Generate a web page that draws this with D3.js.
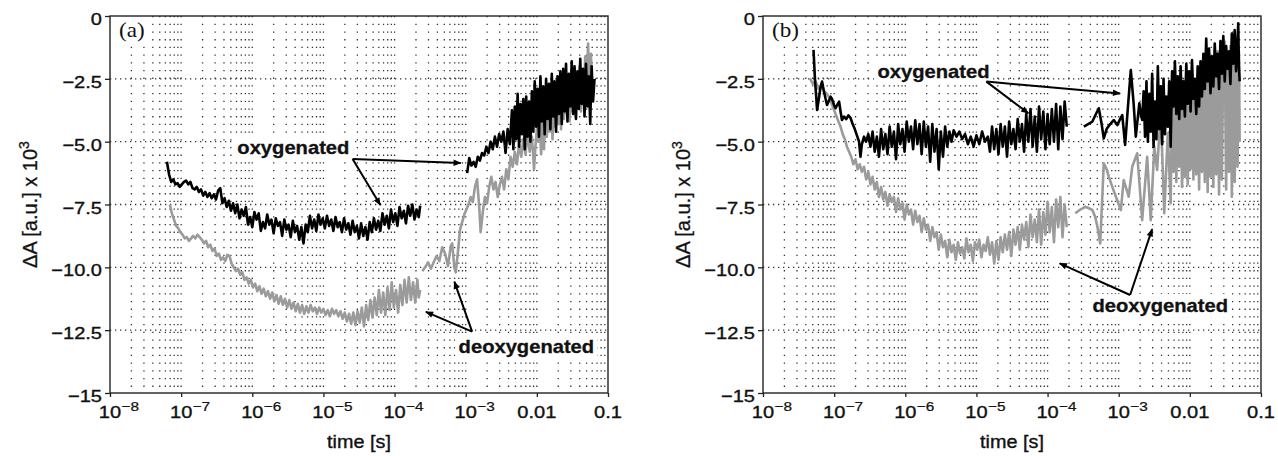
<!DOCTYPE html>
<html>
<head>
<meta charset="utf-8">
<script src="https://cdn.jsdelivr.net/npm/d3@7"></script>
<style>
body { margin: 0; background: #fff; }
svg { display: block; font-family: "Liberation Sans", Arial, Helvetica, sans-serif; }
</style>
</head>
<body>
<svg id="chart" width="1278" height="456"></svg>
<script>
// every trace point is [log10(time / s), dA x 10^3]
var oxyA1 = [[-7.20,-5.80],[-7.17,-6.30],[-7.14,-6.60],[-7.11,-6.50],[-7.08,-6.70],[-7.05,-6.65],[-7.02,-6.80],[-6.99,-6.70],[-6.96,-6.60],[-6.93,-6.55],[-6.90,-6.70],[-6.87,-6.60],[-6.84,-6.85],[-6.81,-6.90],[-6.78,-6.80],[-6.75,-7.00],[-6.72,-6.90],[-6.69,-7.15],[-6.66,-7.00],[-6.63,-7.20],[-6.60,-7.05],[-6.57,-7.25],[-6.54,-7.10],[-6.51,-7.30],[-6.48,-6.95],[-6.45,-6.85],[-6.42,-7.45],[-6.39,-7.25],[-6.36,-7.60],[-6.33,-7.35],[-6.30,-7.75],[-6.27,-7.45],[-6.24,-7.85],[-6.21,-7.50],[-6.18,-8.05],[-6.15,-7.70],[-6.12,-7.95],[-6.09,-7.60],[-6.06,-8.30],[-6.03,-8.00],[-6.00,-8.40],[-5.97,-7.80],[-5.94,-8.10],[-5.91,-7.85],[-5.88,-8.55],[-5.85,-8.20],[-5.82,-8.45],[-5.79,-7.90],[-5.76,-8.30],[-5.73,-8.10],[-5.70,-8.65],[-5.67,-8.05],[-5.64,-8.35],[-5.61,-8.20],[-5.58,-8.75],[-5.55,-8.10],[-5.52,-8.50],[-5.49,-8.30],[-5.46,-8.80],[-5.43,-8.15],[-5.40,-8.60],[-5.37,-8.35],[-5.34,-8.90],[-5.31,-8.40],[-5.28,-9.05],[-5.25,-8.30],[-5.22,-8.60],[-5.19,-7.95],[-5.16,-8.45],[-5.13,-8.10],[-5.10,-8.55],[-5.07,-7.90],[-5.04,-8.30],[-5.01,-8.05],[-4.98,-8.45],[-4.95,-7.95],[-4.92,-8.35],[-4.89,-8.10],[-4.86,-8.55],[-4.83,-8.00],[-4.80,-8.40],[-4.77,-8.20],[-4.74,-8.60],[-4.71,-8.05],[-4.68,-8.50],[-4.65,-8.25],[-4.62,-8.70],[-4.59,-8.15],[-4.56,-8.60],[-4.53,-8.35],[-4.50,-8.85],[-4.47,-8.25],[-4.44,-8.75],[-4.41,-8.40],[-4.38,-8.90],[-4.35,-8.20],[-4.32,-8.60],[-4.29,-8.05],[-4.26,-8.50],[-4.23,-8.15],[-4.20,-8.55],[-4.17,-7.85],[-4.14,-8.30],[-4.11,-7.95],[-4.08,-8.45],[-4.05,-7.70],[-4.02,-8.20],[-3.99,-7.85],[-3.96,-8.35],[-3.93,-7.60],[-3.90,-8.05],[-3.87,-7.75],[-3.84,-8.25],[-3.81,-7.55],[-3.78,-7.95],[-3.75,-7.50],[-3.72,-8.10],[-3.69,-7.70],[-3.66,-8.00],[-3.64,-7.55]];
var oxyA2 = [[-2.98,-6.25],[-2.95,-5.65],[-2.92,-5.95],[-2.89,-5.80],[-2.86,-6.00],[-2.83,-5.60],[-2.80,-5.75],[-2.77,-5.45],[-2.74,-5.55],[-2.71,-5.20],[-2.68,-5.45],[-2.65,-5.00],[-2.62,-5.30],[-2.59,-4.80],[-2.56,-5.20],[-2.53,-4.70],[-2.50,-5.00],[-2.47,-4.60],[-2.44,-5.45],[-2.41,-4.50],[-2.38,-5.10],[-2.35,-3.75],[-2.33,-5.30],[-2.31,-3.60],[-2.29,-4.90],[-2.27,-3.10],[-2.25,-5.20],[-2.23,-3.50],[-2.21,-4.70],[-2.19,-3.30],[-2.17,-5.30],[-2.15,-3.20],[-2.13,-4.80],[-2.11,-3.40],[-2.09,-5.00],[-2.07,-3.00],[-2.05,-4.60],[-2.03,-2.60],[-2.01,-4.40],[-1.99,-2.90],[-1.97,-4.80],[-1.95,-2.40],[-1.93,-4.20],[-1.91,-2.80],[-1.89,-4.70],[-1.87,-2.50],[-1.85,-4.10],[-1.83,-2.70],[-1.81,-4.50],[-1.79,-2.30],[-1.77,-4.00],[-1.75,-2.60],[-1.73,-4.60],[-1.71,-2.40],[-1.69,-3.90],[-1.67,-2.20],[-1.65,-4.30],[-1.63,-2.10],[-1.61,-3.80],[-1.59,-1.90],[-1.57,-4.20],[-1.55,-2.30],[-1.53,-3.60],[-1.51,-1.80],[-1.49,-3.90],[-1.47,-2.00],[-1.45,-4.10],[-1.43,-2.20],[-1.41,-3.70],[-1.39,-1.70],[-1.37,-3.50],[-1.35,-2.10],[-1.33,-4.00],[-1.31,-1.90],[-1.29,-3.60],[-1.27,-2.40],[-1.25,-4.30],[-1.23,-2.00],[-1.21,-3.40],[-1.19,-2.50]];
var deoA1 = [[-7.16,-7.50],[-7.13,-7.85],[-7.10,-8.10],[-7.07,-8.35],[-7.04,-8.45],[-7.01,-8.60],[-6.98,-8.70],[-6.95,-8.85],[-6.92,-8.80],[-6.89,-8.95],[-6.86,-8.85],[-6.83,-8.75],[-6.80,-8.85],[-6.77,-8.70],[-6.74,-8.80],[-6.71,-8.90],[-6.68,-9.05],[-6.65,-8.95],[-6.62,-9.20],[-6.59,-9.10],[-6.56,-9.35],[-6.53,-9.25],[-6.50,-9.55],[-6.47,-9.45],[-6.44,-9.70],[-6.41,-9.60],[-6.38,-9.75],[-6.35,-9.50],[-6.32,-9.55],[-6.29,-9.85],[-6.26,-10.00],[-6.23,-10.15],[-6.20,-10.05],[-6.17,-10.30],[-6.14,-10.20],[-6.11,-10.50],[-6.08,-10.40],[-6.05,-10.65],[-6.02,-10.50],[-5.99,-10.80],[-5.96,-10.65],[-5.93,-10.95],[-5.90,-10.75],[-5.87,-11.05],[-5.84,-10.85],[-5.81,-11.15],[-5.78,-10.95],[-5.75,-11.25],[-5.72,-11.00],[-5.69,-11.35],[-5.66,-11.10],[-5.63,-11.45],[-5.60,-11.15],[-5.57,-11.50],[-5.54,-11.25],[-5.51,-11.60],[-5.48,-11.30],[-5.45,-11.65],[-5.42,-11.40],[-5.39,-11.75],[-5.36,-11.45],[-5.33,-11.80],[-5.30,-11.50],[-5.27,-11.85],[-5.24,-11.55],[-5.21,-11.80],[-5.18,-11.50],[-5.15,-11.75],[-5.12,-11.60],[-5.09,-11.85],[-5.06,-11.60],[-5.03,-11.80],[-5.00,-11.65],[-4.97,-11.90],[-4.94,-11.70],[-4.91,-11.95],[-4.88,-11.65],[-4.85,-11.85],[-4.82,-11.70],[-4.79,-11.95],[-4.76,-11.75],[-4.73,-12.05],[-4.70,-11.80],[-4.67,-12.15],[-4.64,-11.85],[-4.61,-12.25],[-4.58,-11.80],[-4.55,-12.30],[-4.52,-11.75],[-4.49,-12.20],[-4.46,-11.60],[-4.43,-12.35],[-4.40,-11.50],[-4.37,-12.10],[-4.34,-11.30],[-4.31,-12.00],[-4.28,-11.20],[-4.25,-11.90],[-4.22,-10.90],[-4.19,-11.80],[-4.16,-11.00],[-4.13,-11.90],[-4.10,-10.80],[-4.07,-11.70],[-4.04,-10.60],[-4.01,-11.60],[-3.98,-10.90],[-3.95,-11.80],[-3.92,-10.70],[-3.89,-11.50],[-3.86,-10.50],[-3.83,-11.40],[-3.80,-10.40],[-3.77,-11.30],[-3.74,-10.60],[-3.71,-11.40],[-3.68,-10.50],[-3.66,-11.20],[-3.64,-10.90]];
var deoA2 = [[-3.61,-10.15],[-3.57,-10.00],[-3.53,-9.80],[-3.49,-10.05],[-3.45,-9.80],[-3.41,-9.55],[-3.37,-9.75],[-3.33,-9.20],[-3.29,-9.45],[-3.25,-9.95],[-3.21,-9.15],[-3.19,-9.05],[-3.16,-10.00],[-3.14,-10.20],[-3.11,-9.40],[-3.08,-8.50],[-3.05,-8.20],[-3.02,-7.90],[-2.99,-7.70],[-2.96,-7.50],[-2.93,-7.20],[-2.90,-7.40],[-2.87,-6.80],[-2.84,-6.50],[-2.81,-7.60],[-2.79,-8.60],[-2.76,-7.80],[-2.73,-7.20],[-2.70,-7.45],[-2.67,-6.80],[-2.64,-6.40],[-2.61,-6.90],[-2.58,-6.60],[-2.55,-7.20],[-2.52,-6.70],[-2.49,-6.40],[-2.46,-6.90],[-2.43,-6.10],[-2.40,-6.50],[-2.37,-5.60],[-2.34,-6.00],[-2.31,-5.40],[-2.28,-5.90],[-2.25,-5.10],[-2.22,-5.60],[-2.19,-4.90],[-2.16,-5.50],[-2.13,-4.70],[-2.10,-5.40],[-2.07,-4.80],[-2.05,-5.60],[-2.04,-6.10],[-2.02,-5.20],[-2.00,-4.50],[-1.98,-5.00],[-1.96,-4.20],[-1.94,-5.50],[-1.92,-4.00],[-1.90,-5.30],[-1.88,-3.80],[-1.86,-4.80],[-1.84,-3.60],[-1.82,-4.60],[-1.80,-3.20],[-1.78,-4.90],[-1.76,-3.40],[-1.74,-4.40],[-1.72,-3.00],[-1.70,-4.30],[-1.68,-3.20],[-1.66,-4.50],[-1.64,-2.60],[-1.62,-4.10],[-1.60,-2.80],[-1.58,-3.90],[-1.56,-2.40],[-1.54,-4.20],[-1.52,-2.70],[-1.50,-3.80],[-1.48,-2.20],[-1.46,-4.00],[-1.44,-2.50],[-1.42,-3.60],[-1.40,-2.00],[-1.38,-3.80],[-1.36,-2.30],[-1.34,-3.40],[-1.32,-1.60],[-1.30,-3.00],[-1.28,-1.10],[-1.26,-3.50],[-1.24,-1.50],[-1.22,-3.20]];

var oxyB1 = [[-7.29,-1.35],[-7.27,-2.50],[-7.25,-3.30],[-7.24,-3.74],[-7.21,-3.20],[-7.19,-2.80],[-7.17,-2.61],[-7.15,-2.90],[-7.12,-3.30],[-7.10,-3.54],[-7.07,-3.35],[-7.05,-3.21],[-7.03,-3.30],[-7.00,-3.55],[-6.98,-3.67],[-6.95,-3.50],[-6.93,-3.41],[-6.91,-3.80],[-6.89,-4.14],[-6.86,-4.00],[-6.83,-4.10],[-6.80,-3.95],[-6.77,-4.05],[-6.74,-4.30],[-6.71,-4.50],[-6.68,-4.75],[-6.65,-5.00],[-6.63,-5.60],[-6.61,-5.10],[-6.58,-4.80],[-6.55,-5.00],[-6.52,-4.70],[-6.49,-5.20],[-6.46,-4.60],[-6.43,-5.40],[-6.40,-4.80],[-6.37,-5.60],[-6.34,-4.50],[-6.31,-5.30],[-6.28,-4.70],[-6.25,-5.50],[-6.22,-4.40],[-6.19,-5.20],[-6.16,-4.60],[-6.13,-5.70],[-6.10,-4.30],[-6.07,-5.10],[-6.04,-4.50],[-6.01,-5.40],[-5.98,-4.20],[-5.95,-5.00],[-5.92,-4.40],[-5.89,-5.30],[-5.86,-4.15],[-5.83,-5.10],[-5.80,-4.30],[-5.77,-5.50],[-5.74,-4.20],[-5.71,-5.20],[-5.68,-4.40],[-5.65,-5.80],[-5.62,-4.30],[-5.59,-5.40],[-5.56,-4.50],[-5.53,-6.10],[-5.50,-4.60],[-5.47,-5.60],[-5.44,-4.40],[-5.41,-5.20],[-5.38,-4.60],[-5.35,-5.00],[-5.32,-4.55],[-5.28,-4.80],[-5.24,-4.60],[-5.20,-4.90],[-5.16,-4.70],[-5.12,-5.10],[-5.08,-4.80],[-5.04,-5.20],[-5.00,-4.75],[-4.96,-5.10],[-4.92,-4.60],[-4.88,-5.00],[-4.84,-4.80],[-4.81,-5.40],[-4.78,-4.40],[-4.75,-5.30],[-4.72,-4.50],[-4.69,-5.50],[-4.66,-4.30],[-4.63,-5.20],[-4.60,-4.40],[-4.57,-5.60],[-4.54,-4.20],[-4.51,-5.10],[-4.48,-4.50],[-4.45,-5.30],[-4.42,-4.10],[-4.39,-5.00],[-4.36,-4.30],[-4.33,-5.40],[-4.30,-3.90],[-4.27,-5.00],[-4.24,-3.70],[-4.21,-5.20],[-4.18,-4.00],[-4.15,-5.40],[-4.12,-3.60],[-4.09,-4.90],[-4.06,-3.80],[-4.03,-5.30],[-4.00,-3.90],[-3.97,-5.10],[-3.94,-3.70],[-3.91,-5.00],[-3.88,-3.50],[-3.85,-5.30],[-3.82,-3.60],[-3.79,-4.90],[-3.76,-3.40],[-3.73,-4.40]];
var oxyB2 = [[-3.49,-4.40],[-3.43,-4.30],[-3.37,-4.20],[-3.32,-3.90],[-3.28,-3.67],[-3.24,-4.30],[-3.21,-4.87],[-3.17,-4.50],[-3.12,-4.30],[-3.07,-4.14],[-3.02,-4.34],[-2.98,-4.10],[-2.95,-3.94],[-2.91,-5.13],[-2.87,-3.60],[-2.83,-2.15],[-2.79,-3.50],[-2.76,-4.80],[-2.73,-4.00],[-2.71,-3.47],[-2.69,-3.90],[-2.67,-4.14],[-2.65,-3.00],[-2.63,-4.80],[-2.61,-2.60],[-2.59,-5.00],[-2.57,-3.10],[-2.55,-4.60],[-2.53,-2.30],[-2.51,-5.20],[-2.49,-3.40],[-2.47,-4.90],[-2.45,-2.00],[-2.43,-4.50],[-2.41,-2.80],[-2.39,-5.10],[-2.37,-2.50],[-2.35,-4.70],[-2.33,-3.20],[-2.31,-4.40],[-2.29,-2.60],[-2.27,-5.20],[-2.25,-2.20],[-2.23,-3.60],[-2.21,-1.80],[-2.19,-3.90],[-2.17,-2.40],[-2.15,-4.10],[-2.13,-2.00],[-2.11,-3.70],[-2.09,-2.60],[-2.07,-4.00],[-2.05,-1.90],[-2.03,-3.50],[-2.01,-2.20],[-1.99,-3.80],[-1.97,-1.75],[-1.95,-3.30],[-1.93,-2.50],[-1.91,-3.90],[-1.89,-2.00],[-1.87,-3.60],[-1.85,-1.80],[-1.83,-3.20],[-1.81,-1.50],[-1.79,-2.90],[-1.77,-0.90],[-1.75,-2.60],[-1.73,-1.30],[-1.71,-3.07],[-1.69,-1.60],[-1.67,-2.80],[-1.65,-1.10],[-1.63,-2.40],[-1.61,-1.50],[-1.59,-2.90],[-1.57,-1.00],[-1.55,-2.30],[-1.53,-0.80],[-1.51,-2.60],[-1.49,-1.20],[-1.47,-2.10],[-1.45,-1.40],[-1.43,-2.70],[-1.41,-0.70],[-1.39,-1.90],[-1.37,-0.56],[-1.35,-2.20],[-1.33,-1.00],[-1.32,-0.29],[-1.31,-2.00],[-1.30,-2.60]];
var deoB1 = [[-7.34,-2.48],[-7.30,-2.70],[-7.26,-2.60],[-7.22,-2.90],[-7.18,-2.80],[-7.14,-3.00],[-7.10,-3.10],[-7.06,-3.30],[-7.02,-3.60],[-6.98,-3.90],[-6.94,-4.20],[-6.91,-4.40],[-6.88,-4.70],[-6.85,-4.90],[-6.82,-5.20],[-6.79,-5.40],[-6.76,-5.60],[-6.73,-5.90],[-6.70,-5.70],[-6.67,-6.10],[-6.64,-5.90],[-6.61,-6.20],[-6.58,-6.00],[-6.55,-6.50],[-6.52,-6.20],[-6.49,-6.70],[-6.46,-6.40],[-6.43,-6.90],[-6.40,-6.60],[-6.37,-7.20],[-6.34,-6.80],[-6.31,-7.30],[-6.28,-7.00],[-6.25,-7.55],[-6.22,-7.10],[-6.19,-7.40],[-6.16,-7.20],[-6.13,-7.80],[-6.10,-7.25],[-6.07,-7.70],[-6.04,-7.45],[-6.01,-8.10],[-5.98,-7.50],[-5.95,-7.90],[-5.92,-7.70],[-5.89,-8.30],[-5.86,-7.75],[-5.83,-8.20],[-5.80,-7.95],[-5.77,-8.60],[-5.74,-8.05],[-5.71,-8.50],[-5.68,-8.30],[-5.65,-8.95],[-5.62,-8.40],[-5.59,-8.80],[-5.56,-8.60],[-5.53,-9.30],[-5.50,-8.70],[-5.47,-9.20],[-5.44,-8.95],[-5.41,-9.60],[-5.38,-8.90],[-5.35,-9.40],[-5.32,-9.10],[-5.29,-9.70],[-5.26,-9.00],[-5.23,-9.45],[-5.20,-9.20],[-5.17,-9.65],[-5.14,-8.85],[-5.11,-9.40],[-5.08,-9.10],[-5.05,-9.75],[-5.02,-9.00],[-4.99,-9.30],[-4.96,-8.90],[-4.93,-9.60],[-4.90,-9.10],[-4.87,-9.35],[-4.84,-8.80],[-4.81,-9.50],[-4.78,-9.00],[-4.75,-9.85],[-4.72,-8.95],[-4.69,-9.70],[-4.66,-8.80],[-4.63,-9.40],[-4.60,-8.70],[-4.57,-9.30],[-4.54,-8.60],[-4.51,-9.55],[-4.48,-8.50],[-4.45,-9.10],[-4.42,-8.40],[-4.39,-9.30],[-4.36,-8.30],[-4.33,-8.90],[-4.30,-8.20],[-4.27,-9.20],[-4.24,-7.90],[-4.21,-8.80],[-4.18,-8.10],[-4.15,-9.00],[-4.12,-7.70],[-4.09,-9.10],[-4.06,-7.80],[-4.03,-8.70],[-4.00,-7.40],[-3.97,-8.60],[-3.94,-7.60],[-3.91,-9.00],[-3.88,-7.30],[-3.85,-8.40],[-3.82,-7.20],[-3.79,-8.80],[-3.76,-7.50],[-3.73,-8.40]];
var deoB2 = [[-3.61,-7.85],[-3.54,-7.70],[-3.47,-7.59],[-3.42,-7.65],[-3.37,-7.72],[-3.33,-8.00],[-3.30,-8.38],[-3.26,-9.05],[-3.21,-5.86],[-3.17,-6.10],[-3.14,-6.39],[-3.09,-6.80],[-3.04,-7.19],[-2.97,-7.72],[-2.93,-6.53],[-2.89,-6.90],[-2.86,-7.19],[-2.81,-6.00],[-2.74,-5.46],[-2.67,-8.12],[-2.60,-5.60],[-2.55,-8.12],[-2.50,-5.20],[-2.46,-6.13],[-2.41,-3.74],[-2.36,-7.85],[-2.31,-4.67],[-2.27,-7.45],[-2.25,-3.20],[-2.23,-6.20],[-2.21,-3.50],[-2.19,-6.60],[-2.17,-3.10],[-2.15,-6.00],[-2.13,-3.70],[-2.11,-6.80],[-2.09,-3.30],[-2.07,-6.40],[-2.05,-3.00],[-2.03,-6.70],[-2.01,-3.60],[-1.99,-6.10],[-1.97,-2.90],[-1.95,-6.50],[-1.93,-3.40],[-1.91,-6.30],[-1.89,-2.80],[-1.87,-6.90],[-1.85,-3.10],[-1.83,-6.20],[-1.81,-2.40],[-1.79,-6.60],[-1.77,-1.80],[-1.75,-7.00],[-1.73,-2.20],[-1.71,-6.40],[-1.69,-1.60],[-1.67,-6.80],[-1.65,-2.00],[-1.63,-6.30],[-1.61,-1.40],[-1.59,-7.10],[-1.57,-1.90],[-1.55,-6.50],[-1.53,-1.30],[-1.51,-1.02],[-1.49,-6.90],[-1.47,-1.60],[-1.45,-6.20],[-1.43,-1.20],[-1.41,-7.19],[-1.39,-1.50],[-1.37,-6.60],[-1.35,-1.10],[-1.33,-6.00],[-1.31,-1.40],[-1.30,-5.00]];

var yTicks = [0, -2.5, -5, -7.5, -10, -12.5, -15];
var yTickLabels = ['0', '\u22122.5', '\u22125.0', '\u22127.5', '\u221210.0', '\u221212.5', '\u221215'];
var xTicks = [1e-8, 1e-7, 1e-6, 1e-5, 1e-4, 1e-3, 0.01, 0.1];
var xTickBase = ['10', '10', '10', '10', '10', '10', '0.01', '0.1'];
var xTickExp = ['\u22128', '\u22127', '\u22126', '\u22125', '\u22124', '\u22123', '', ''];

// annotation anchors, same units as the traces
var notesA = [
    {text: 'oxygenated', at: [-6.21, -5.49], from: [-4.59, -5.69], to: [[-3.07, -5.85], [-4.20, -7.52]]},
    {text: 'deoxygenated', at: [-3.10, -13.41], from: [-2.91, -12.56], to: [[-3.56, -11.77], [-3.16, -10.57]]}
];
var notesB = [
    {text: 'oxygenated', at: [-6.39, -2.47], from: [-4.86, -2.61], to: [[-4.27, -3.87], [-2.98, -3.08]]},
    {text: 'deoxygenated', at: [-3.37, -11.78], from: [-2.84, -11.10], to: [[-3.83, -9.84], [-2.53, -8.48]]}
];

var TOP = 16, BOTTOM = 393;
var SX = 1.18;
var panels = [
    {left: 110, right: 608, tag: '(a)', black: [oxyA1, oxyA2], gray: [deoA1, deoA2], notes: notesA},
    {left: 763, right: 1261, tag: '(b)', black: [oxyB1, oxyB2], gray: [deoB1, deoB2], notes: notesB}
];

var svg = d3.select('#chart');

svg.append('defs').append('marker')
    .attr('id', 'head')
    .attr('viewBox', '0 0 10 10')
    .attr('refX', 9).attr('refY', 5)
    .attr('markerUnits', 'userSpaceOnUse')
    .attr('markerWidth', 10).attr('markerHeight', 8)
    .attr('orient', 'auto')
    .append('path').attr('d', 'M0,1L10,5L0,9z').attr('fill', '#000');

function addText(parent, x, y, str, opts) {
    var g = parent.append('g')
        .attr('transform', 'translate(' + x + ',' + y + ') scale(' + (opts.sx || SX) + ',1)');
    var bg = opts.bg ? g.append('rect').attr('fill', '#fff') : null;
    var t = g.append('text')
        .attr('font-size', opts.size || 17)
        .attr('font-weight', opts.weight || 'normal')
        .attr('text-anchor', opts.anchor || 'start')
        .attr('dy', opts.dy || 0)
        .attr('fill', '#111')
        .attr('stroke', '#111')
        .attr('stroke-width', opts.heavy === undefined ? 0.35 : opts.heavy)
        .text(str);
    if (opts.family) t.attr('font-family', opts.family);
    if (bg) {
        var b = t.node().getBBox();
        bg.attr('x', b.x - 3).attr('y', b.y - 2)
            .attr('width', b.width + 6).attr('height', b.height + 4);
    }
    return g;
}

panels.forEach(function(p) {
    var x = d3.scaleLog().domain([1e-8, 0.1]).range([p.left, p.right]);
    var y = d3.scaleLinear().domain([-15, 0]).range([BOTTOM, TOP]);
    var px = function(d) { return x(Math.pow(10, d[0])); };
    var py = function(d) { return y(d[1]); };
    var g = svg.append('g');

    // dotted grid
    g.append('g').selectAll('line')
        .data(x.ticks().filter(function(d) { return d > 1.01e-8 && d < 0.099; }))
        .enter().append('line')
        .attr('x1', function(d) { return x(d); })
        .attr('x2', function(d) { return x(d); })
        .attr('y1', TOP).attr('y2', BOTTOM)
        .attr('stroke', '#333').attr('stroke-width', 1.3)
        .attr('stroke-dasharray', '1.3,6.4');
    g.append('g').selectAll('line')
        .data(yTicks.slice(1, -1))
        .enter().append('line')
        .attr('x1', p.left).attr('x2', p.right)
        .attr('y1', function(d) { return y(d); })
        .attr('y2', function(d) { return y(d); })
        .attr('stroke', '#333').attr('stroke-width', 1.3)
        .attr('stroke-dasharray', '1.3,3.7');

    // labels with white boxes
    addText(g, p.left + 9, y(-0.84), p.tag, {size: 21, sx: 1.1, heavy: 0, family: '"Liberation Serif", "Times New Roman", serif', bg: true});
    p.notes.forEach(function(n) {
        addText(g, px(n.at), py(n.at), n.text, {size: 18, sx: 1.12, weight: 'bold', heavy: 0.3, bg: true});
    });

    var line = d3.line().x(px).y(py);
    g.selectAll('path.gray').data(p.gray).enter().append('path')
        .attr('class', 'gray')
        .attr('d', line)
        .attr('fill', 'none').attr('stroke', '#9b9b9b')
        .attr('stroke-width', 2.6).attr('stroke-linejoin', 'round');
    g.selectAll('path.black').data(p.black).enter().append('path')
        .attr('class', 'black')
        .attr('d', line)
        .attr('fill', 'none').attr('stroke', '#000')
        .attr('stroke-width', 2.6).attr('stroke-linejoin', 'round');

    // frame and ticks
    g.append('rect')
        .attr('x', p.left).attr('y', TOP)
        .attr('width', p.right - p.left).attr('height', BOTTOM - TOP)
        .attr('fill', 'none').attr('stroke', '#222').attr('stroke-width', 1.4);
    var leftAxis = d3.axisLeft(y).tickValues(yTicks).tickFormat('').tickSize(5);
    g.append('g').attr('transform', 'translate(' + p.left + ',0)').call(leftAxis)
        .call(function(a) { a.select('.domain').remove(); });
    var bottomAxis = d3.axisBottom(x).tickValues(xTicks).tickFormat('').tickSize(4);
    g.append('g').attr('transform', 'translate(0,' + BOTTOM + ')').call(bottomAxis)
        .call(function(a) { a.select('.domain').remove(); });
    g.selectAll('.tick line').attr('stroke', '#222').attr('stroke-width', 1.3);

    yTicks.forEach(function(v, i) {
        addText(g, p.left - 8, y(v), yTickLabels[i], {anchor: 'end', dy: '0.53em'});
    });
    xTicks.forEach(function(v, i) {
        addText(g, x(v), 418, xTickBase[i], {anchor: 'middle'});
        if (xTickExp[i]) addText(g, x(v) + 11.5, 411, xTickExp[i], {size: 13, heavy: 0.25});
    });

    // axis titles
    var yt = g.append('text')
        .attr('transform', 'translate(' + (p.left - 73) + ',' + ((TOP + BOTTOM) / 2) + ') rotate(-90)')
        .attr('text-anchor', 'middle')
        .attr('font-size', 20).attr('fill', '#111')
        .attr('stroke', '#111').attr('stroke-width', 0.3);
    yt.append('tspan').text('\u0394A [a.u.] x 10');
    yt.append('tspan').attr('dy', -8).attr('font-size', 14).text('3');
    addText(g, (p.left + p.right) / 2, 448, 'time [s]', {anchor: 'middle', size: 18, sx: 1.1});

    // arrows
    p.notes.forEach(function(n) {
        n.to.forEach(function(t) {
            g.append('line')
                .attr('x1', px(n.from)).attr('y1', py(n.from))
                .attr('x2', px(t)).attr('y2', py(t))
                .attr('stroke', '#000').attr('stroke-width', 2)
                .attr('marker-end', 'url(#head)');
        });
    });
});
</script>
</body>
</html>
